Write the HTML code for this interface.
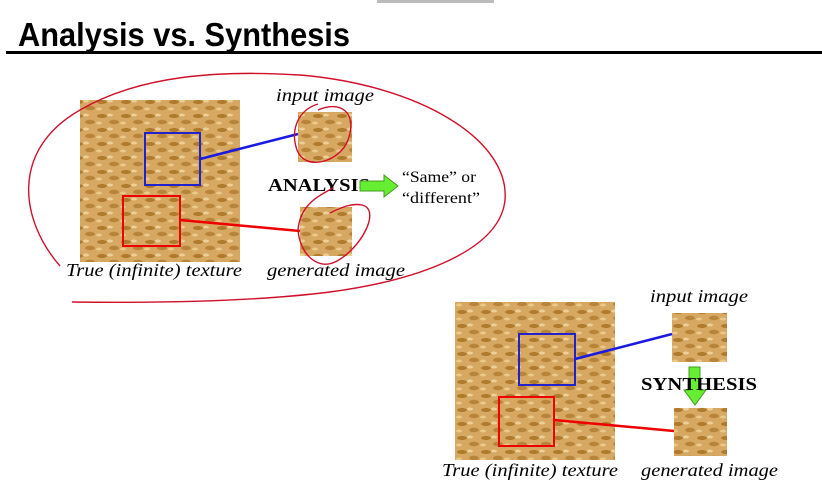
<!DOCTYPE html>
<html><head><meta charset="utf-8"><style>
html,body{margin:0;padding:0;background:#fff;}
body{width:822px;height:486px;overflow:hidden;position:relative;}
svg{position:absolute;left:0;top:0;}
</style></head><body>
<svg width="822" height="486" viewBox="0 0 822 486" xmlns="http://www.w3.org/2000/svg">
<defs>
<pattern id="tx" width="24" height="14" patternUnits="userSpaceOnUse">
<rect width="24" height="14" fill="#d6a862"/>
<ellipse cx="6" cy="4" rx="5" ry="2" fill="#b07a2c"/>
<ellipse cx="18" cy="10" rx="5" ry="2.2" fill="#b8843a"/>
<ellipse cx="14" cy="3" rx="3" ry="1.5" fill="#ecd09a"/>
<ellipse cx="3" cy="11" rx="3" ry="1.5" fill="#e8c88c"/>
</pattern>
</defs>
<rect x="377" y="0" width="117" height="3" fill="#bbb"/>
<text x="18" y="46" font-family="Liberation Sans, sans-serif" font-weight="bold" font-size="33" textLength="332" lengthAdjust="spacingAndGlyphs">Analysis vs. Synthesis</text>
<rect x="6" y="51" width="816" height="3" fill="#000"/>

<g font-family="Liberation Serif, serif" font-size="18">
<rect x="80" y="100" width="160" height="162" fill="url(#tx)"/>
<rect x="298" y="112" width="54" height="50" fill="url(#tx)"/>
<rect x="300" y="207" width="52" height="49" fill="url(#tx)"/>
<rect x="145" y="133" width="55" height="52" fill="none" stroke="#2222cc" stroke-width="2"/>
<rect x="123" y="196" width="57" height="50" fill="none" stroke="#e00" stroke-width="2"/>
<line x1="200" y1="159" x2="298" y2="134" stroke="#1a1ae0" stroke-width="2.5"/>
<line x1="180" y1="220" x2="300" y2="231" stroke="#e00" stroke-width="2.5"/>
<text x="276" y="101" font-style="italic" textLength="98" lengthAdjust="spacingAndGlyphs">input image</text>
<text x="268" y="191" font-weight="bold" textLength="102" lengthAdjust="spacingAndGlyphs">ANALYSIS</text>
<polygon points="360,181 384,181 384,175 398,186 384,197 384,191 360,191" fill="#66ee33" stroke="#449922" stroke-width="1"/>
<text x="402" y="182" font-size="16" textLength="74" lengthAdjust="spacingAndGlyphs">“Same” or</text>
<text x="402" y="203" font-size="16" textLength="78" lengthAdjust="spacingAndGlyphs">“different”</text>
<text x="66" y="276" font-style="italic" textLength="176" lengthAdjust="spacingAndGlyphs">True (infinite) texture</text>
<text x="267" y="276" font-style="italic" textLength="138" lengthAdjust="spacingAndGlyphs">generated image</text>
<g fill="none" stroke="#d0102a" stroke-width="1.4">
<path d="M60,266 C20,220 10,150 80,110 C140,75 220,70 300,75 C420,85 510,140 505,200 C500,250 420,280 330,292 C250,302 150,303 72,302"/>
<path d="M318,110 C340,100 358,112 348,140 C340,162 305,172 297,150 C290,130 298,110 318,104"/>
<path d="M333,188 C318,196 300,205 298,230 C300,255 318,270 335,262 C360,250 382,210 362,205 C352,203 342,207 330,213"/>
</g>
<rect x="455" y="302" width="160" height="158" fill="url(#tx)"/>
<rect x="672" y="313" width="55" height="49" fill="url(#tx)"/>
<rect x="674" y="408" width="53" height="48" fill="url(#tx)"/>
<rect x="519" y="334" width="56" height="51" fill="none" stroke="#2222cc" stroke-width="2"/>
<rect x="499" y="397" width="55" height="49" fill="none" stroke="#e00" stroke-width="2"/>
<line x1="575" y1="359" x2="672" y2="334" stroke="#1a1ae0" stroke-width="2.5"/>
<line x1="554" y1="420" x2="674" y2="431" stroke="#e00" stroke-width="2.5"/>
<text x="650" y="302" font-style="italic" textLength="98" lengthAdjust="spacingAndGlyphs">input image</text>
<polygon points="689,367 700,367 700,390 706,390 695,405 684,390 689,390" fill="#66ee33" stroke="#449922" stroke-width="1"/>
<text x="641" y="390" font-weight="bold" textLength="116" lengthAdjust="spacingAndGlyphs">SYNTHESIS</text>
<text x="442" y="476" font-style="italic" textLength="176" lengthAdjust="spacingAndGlyphs">True (infinite) texture</text>
<text x="641" y="476" font-style="italic" textLength="137" lengthAdjust="spacingAndGlyphs">generated image</text>
</g>
</svg>
</body></html>
